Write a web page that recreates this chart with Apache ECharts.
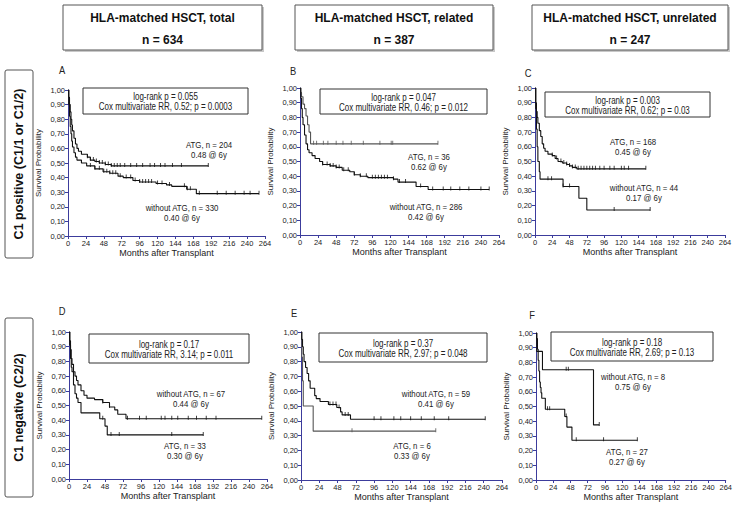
<!DOCTYPE html>
<html><head><meta charset="utf-8">
<script src="https://cdn.jsdelivr.net/npm/echarts@6/dist/echarts.min.js"></script>
<style>html,body{margin:0;padding:0;background:#fff}#c{width:735px;height:507px}</style>
</head><body><div id="c"></div>
<script>
// ---- data ----
const xTicks = [0,24,48,72,96,120,144,168,192,216,240,264];
const yTicks = [0,0.1,0.2,0.3,0.4,0.5,0.6,0.7,0.8,0.9,1.0];
const headerTitles = ["HLA-matched HSCT, total","HLA-matched HSCT, related","HLA-matched HSCT, unrelated"];
const headerN = ["n = 634","n = 387","n = 247"];
const rowLabels = ["C1 positive (C1/1 or C1/2)","C1 negative (C2/2)"];
const panelLetters = ["A","B","C","D","E","F"];
const statLine1 = ["log-rank p = 0.055","log-rank p = 0.047","log-rank p = 0.003","log-rank p = 0.17","log-rank p = 0.37","log-rank p = 0.18"];
const statLine2 = ["Cox multivariate RR, 0.52; p = 0.0003","Cox multivariate RR, 0.46; p = 0.012","Cox multivariate RR, 0.62; p = 0.03","Cox multivariate RR, 3.14; p = 0.011","Cox multivariate RR, 2.97; p = 0.048","Cox multivariate RR, 2.69; p = 0.13"];
const atgLabel = ["ATG, n = 204","ATG, n = 36","ATG, n = 168","ATG, n = 33","ATG, n = 6","ATG, n = 27"];
const atgSurv = ["0.48 @ 6y","0.62 @ 6y","0.45 @ 6y","0.30 @ 6y","0.33 @ 6y","0.27 @ 6y"];
const noAtgLabel = ["without ATG, n = 330","without ATG, n = 286","without ATG, n = 44","without ATG, n = 67","without ATG, n = 59","without ATG, n = 8"];
const noAtgSurv = ["0.40 @ 6y","0.42 @ 6y","0.17 @ 6y","0.44 @ 6y","0.41 @ 6y","0.75 @ 6y"];

// Kaplan-Meier steps [month, survival]
const atgA = [[0,1],[1,0.95],[2,0.9],[3,0.85],[4,0.8],[5,0.76],[6,0.72],[8,0.67],[10,0.63],[12,0.6],[14,0.58],[18,0.56],[26,0.54],[30,0.52],[36,0.51],[42,0.50],[50,0.49],[58,0.48],[188,0.48]];
const noAtgA = [[0,1],[1,0.9],[2,0.82],[3,0.75],[4,0.7],[5,0.65],[6,0.61],[8,0.57],[10,0.54],[12,0.52],[18,0.50],[25,0.48],[36,0.46],[47,0.44],[56,0.43],[67,0.41],[74,0.40],[87,0.38],[96,0.37],[118,0.36],[132,0.35],[139,0.34],[159,0.32],[172,0.29],[256,0.29]];
const atgB = [[0,1],[1,0.97],[2,0.94],[4,0.89],[6,0.86],[8,0.81],[10,0.75],[12,0.70],[14,0.62],[183,0.62]];
const noAtgB = [[0,1],[1,0.93],[2,0.86],[3,0.8],[4,0.75],[6,0.68],[8,0.62],[10,0.58],[12,0.56],[16,0.54],[20,0.52],[26,0.50],[30,0.48],[40,0.47],[48,0.46],[56,0.44],[66,0.43],[72,0.41],[80,0.40],[90,0.39],[124,0.38],[130,0.36],[154,0.33],[170,0.31],[251,0.31]];
const atgC = [[0,1],[1,0.9],[2,0.84],[3,0.8],[4,0.76],[6,0.71],[8,0.67],[10,0.62],[12,0.59],[14,0.57],[18,0.55],[24,0.54],[28,0.52],[32,0.50],[38,0.49],[44,0.48],[48,0.47],[52,0.46],[58,0.45],[154,0.45]];
const noAtgC = [[0,1],[1,0.86],[2,0.72],[3,0.6],[4,0.5],[6,0.43],[7,0.38],[39,0.33],[61,0.25],[72,0.17],[160,0.17]];
const atgD = [[0,1],[1,0.91],[2,0.82],[3,0.76],[4,0.73],[6,0.64],[8,0.58],[10,0.55],[12,0.52],[16,0.45],[41,0.41],[48,0.36],[51,0.30],[179,0.30]];
const noAtgD = [[0,1],[1,0.94],[2,0.88],[3,0.82],[4,0.78],[6,0.73],[8,0.70],[10,0.67],[12,0.64],[16,0.60],[20,0.57],[24,0.55],[34,0.54],[45,0.52],[54,0.49],[61,0.47],[65,0.44],[76,0.41],[257,0.41]];
const atgE = [[0,1],[1,0.83],[2,0.67],[3,0.5],[16,0.33],[177,0.33]];
const noAtgE = [[0,1],[1,0.95],[2,0.9],[3,0.85],[4,0.8],[6,0.76],[8,0.72],[10,0.67],[12,0.62],[18,0.57],[20,0.55],[25,0.53],[36,0.51],[47,0.49],[52,0.46],[54,0.44],[65,0.41],[242,0.41]];
const atgF = [[0,1],[1,0.963],[2,0.889],[3,0.815],[4,0.741],[5,0.667],[6,0.63],[7,0.593],[8,0.556],[13,0.481],[40,0.432],[43,0.36],[50,0.27],[141,0.27]];
const noAtgF = [[0,1],[1,0.875],[9,0.75],[80,0.375],[88,0.375]];

// censored observations (months)
const atgCensA = [26,30,34,38,42,46,50,54,58,62,66,70,76,84,92,100,110,116,124,130,140,152,188];
const noAtgCensA = [30,36,42,48,52,56,60,64,70,78,84,90,96,100,104,108,112,120,126,136,156,160,164,176,200,212,224,236,244,256];
const atgCensB = [18,22,31,37,48,57,68,84,106,121,123,183];
const noAtgCensB = [30,36,40,44,48,52,58,64,72,80,88,96,100,104,108,112,116,124,132,140,160,176,190,200,212,224,240,251];
const atgCensC = [24,30,36,40,44,48,52,56,60,64,68,72,76,80,84,90,96,104,110,120,124,130,154];
const noAtgCensC = [18,23,39,48,110,160];
const atgCensD = [45,56,67,137,179];
const noAtgCensD = [45,54,78,94,103,123,128,137,145,159,170,183,196,257];
const atgCensE = [67,177];
const noAtgCensE = [38,42,46,50,58,62,96,105,122,131,144,158,175,194,242];
const atgCensF = [16,19,42,56,94,141];
const noAtgCensF = [42,45,88];

// ---- layout ----
const curves = [[atgA,noAtgA],[atgB,noAtgB],[atgC,noAtgC],[atgD,noAtgD],[atgE,noAtgE],[atgF,noAtgF]];
const cens = [[atgCensA,noAtgCensA],[atgCensB,noAtgCensB],[atgCensC,noAtgCensC],[atgCensD,noAtgCensD],[atgCensE,noAtgCensE],[atgCensF,noAtgCensF]];
const grids = [
  {left:68,top:90,width:197,height:146},
  {left:300,top:88,width:199,height:147},
  {left:535,top:88,width:190,height:147},
  {left:69,top:332,width:198,height:147},
  {left:301,top:332,width:201,height:148},
  {left:536,top:333,width:190,height:147}
];
const statBoxes = [[83,88,165,26],[320,89,167,25],[545,92,165,25],[89,334,160,29],[319,333,168,29],[551,332,162,29]];
const atgPos = [[209,145],[429,157],[633,142],[185,446],[412,446],[627,452]];
const noAtgPos = [[182,208],[426,207],[644,188],[191,394],[436,394],[633,377]];
const letterPos = [[62,70],[293,71],[528,73],[62,311],[294,313],[532,315]];
const headerBoxes = [[63,5,199,45],[295,5,198,45],[532,5,196,45]];

const FF = "'Liberation Sans', Arial, sans-serif";
const AXIS = '#3c3c9c';
const SX = 0.8; // horizontal squeeze of the small annotation text

function survAt(curve, t){ let s = curve[0][1]; for (const p of curve){ if (p[0] <= t) s = p[1]; } return s; }

const option = { animation:false, textStyle:{fontFamily:'Liberation Sans'}, grid:[], xAxis:[], yAxis:[], series:[], graphic:[] };
grids.forEach((g,i)=>{
  option.grid.push(Object.assign({containLabel:false}, g));
  option.xAxis.push({type:'value', gridIndex:i, min:0, max:264, interval:24,
    axisLine:{lineStyle:{color:AXIS,width:1}}, axisTick:{length:3,lineStyle:{color:AXIS}},
    axisLabel:{fontSize:7.5,color:'#222',margin:3, fontFamily:'Liberation Sans'}, splitLine:{show:false},
    name:'Months after Transplant', nameLocation:'middle', nameGap:12,
    nameTextStyle:{fontSize:9,color:'#222',fontFamily:'Liberation Sans'}});
  option.yAxis.push({type:'value', gridIndex:i, min:0, max:1, interval:0.1,
    axisLine:{show:true,lineStyle:{color:AXIS,width:1}}, axisTick:{show:true,length:3,lineStyle:{color:AXIS}},
    axisLabel:{fontSize:7.5,color:'#222',margin:3,fontFamily:'Liberation Sans', formatter:v=>v.toFixed(2).replace('.',',')},
    splitLine:{show:false},
    name:'Survival Probability', nameLocation:'middle', nameGap:26,
    nameTextStyle:{fontSize:8,color:'#222',fontFamily:'Liberation Sans'}});
  curves[i].forEach((c,k)=>{
    const col = (k===0 && (i===1||i===4)) ? '#555' : '#111';
    option.series.push({type:'line', xAxisIndex:i, yAxisIndex:i, data:c, step:'end', symbol:'none',
      lineStyle:{color:col,width:1.1}, silent:true});
    option.series.push({type:'scatter', xAxisIndex:i, yAxisIndex:i,
      data:cens[i][k].map(t=>[t, survAt(c,t)]), symbol:'rect', symbolSize:[1,4], symbolOffset:[0,-1],
      itemStyle:{color:col}, silent:true});
  });
  const b = statBoxes[i];
  option.graphic.push({type:'rect', shape:{x:b[0],y:b[1],width:b[2],height:b[3]}, style:{fill:'#fff',stroke:'#333',lineWidth:1}, z:10});
  option.graphic.push({type:'text', x:b[0]+b[2]/2, y:b[1]+b[3]/2+1, scaleX:SX, z:11,
    style:{text:statLine1[i]+'\n'+statLine2[i], font:'10px '+FF, fill:'#222', align:'center', verticalAlign:'middle', lineHeight:10}});
  option.graphic.push({type:'text', x:atgPos[i][0], y:atgPos[i][1]+4.5, scaleX:SX, z:11,
    style:{text:atgLabel[i]+'\n'+atgSurv[i], font:'9.8px '+FF, fill:'#222', align:'center', verticalAlign:'middle', lineHeight:9.5}});
  option.graphic.push({type:'text', x:noAtgPos[i][0], y:noAtgPos[i][1]+4.5, scaleX:SX, z:11,
    style:{text:noAtgLabel[i]+'\n'+noAtgSurv[i], font:'9.8px '+FF, fill:'#222', align:'center', verticalAlign:'middle', lineHeight:9.5}});
  option.graphic.push({type:'text', x:letterPos[i][0], y:letterPos[i][1], scaleX:0.85, z:11,
    style:{text:panelLetters[i], font:'11px '+FF, fill:'#222', align:'center', verticalAlign:'middle'}});
});
headerBoxes.forEach((b,j)=>{
  option.graphic.push({type:'rect', shape:{x:b[0]+2,y:b[1]+2,width:b[2],height:b[3]}, style:{fill:'#c8c8c8'}, z:9});
  option.graphic.push({type:'rect', shape:{x:b[0],y:b[1],width:b[2],height:b[3]}, style:{fill:'#fff',stroke:'#555',lineWidth:1}, z:10});
  option.graphic.push({type:'text', x:b[0]+b[2]/2, y:18, z:11,
    style:{text:headerTitles[j], font:'bold 12px '+FF, fill:'#111', align:'center', verticalAlign:'middle'}});
  option.graphic.push({type:'text', x:b[0]+b[2]/2, y:40, z:11,
    style:{text:headerN[j], font:'bold 12px '+FF, fill:'#111', align:'center', verticalAlign:'middle'}});
});
const rowBoxes = [[5,70,28,188],[5,318,28,179]];
rowBoxes.forEach((b,j)=>{
  option.graphic.push({type:'rect', shape:{x:b[0],y:b[1],width:b[2],height:b[3],r:2}, style:{fill:'#fff',stroke:'#555',lineWidth:1}, z:10});
  option.graphic.push({type:'text', x:b[0]+b[2]/2, y:b[1]+b[3]/2, rotation:Math.PI/2, z:11,
    style:{text:rowLabels[j], font:'bold 12.5px '+FF, fill:'#111', align:'center', verticalAlign:'middle'}});
});

const chart = echarts.init(document.getElementById('c'), null, {renderer:'svg'});
chart.setOption(option);
</script></body></html>
